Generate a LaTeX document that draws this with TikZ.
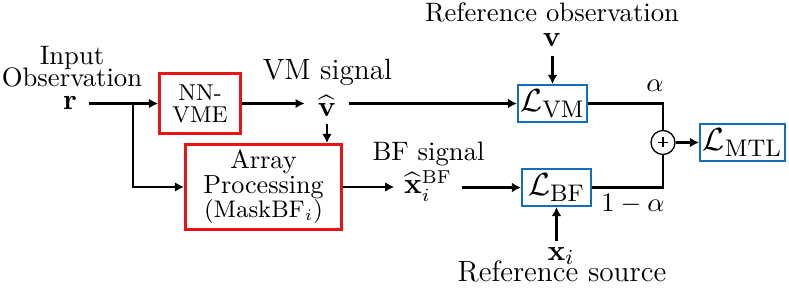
\documentclass[tikz,border=0pt]{standalone}
\usepackage{amsmath}
\usetikzlibrary{arrows.meta,calc}
\definecolor{boxred}{RGB}{235,20,20}
\definecolor{boxblue}{RGB}{20,110,190}
\begin{document}
\begin{tikzpicture}[x=0.375pt,y=-0.375pt,
  redbox/.style={draw=boxred,line width=1.1pt,align=center,inner sep=0pt},
  bluebox/.style={draw=boxblue,line width=0.8pt,inner sep=0pt,minimum height=13.8pt,font=\fontsize{12.5}{13}\selectfont},
  arr/.style={line width=1.1pt,-{Latex[length=3.4pt,width=3.6pt]}},
  conn/.style={line width=1.1pt},
  txt/.style={inner sep=0pt,anchor=base,font=\fontsize{10}{12}\selectfont},
  bigtxt/.style={inner sep=0pt,anchor=base,font=\fontsize{11}{13}\selectfont},
  sumnode/.style={draw,circle,line width=0.5pt,minimum size=9pt,inner sep=0pt,
    path picture={\draw[line width=0.5pt] ($(path picture bounding box.center)+(-5,0)$) -- ++(10,0);
                  \draw[line width=0.5pt] ($(path picture bounding box.center)+(0,-5)$) -- ++(0,10);}}]
\useasboundingbox (0,0) rectangle (789,292);

% input
\node[txt] (intxt1) at (72,65) {Input};
\node[txt] (intxt2) at (72,87) {Observation};
\node[bigtxt,inner xsep=4.5pt,inner ysep=0pt] (r) at (70,110) {$\mathbf{r}$};

% boxes
\node[redbox,minimum width=30.4pt,minimum height=22.5pt,font=\fontsize{8.6}{8.25}\selectfont] (nn) at (200,103.5) {NN-\\VME};
\node[redbox,minimum width=58.5pt,minimum height=31.9pt,font=\fontsize{9.8}{9.2}\selectfont] (arr) at (263.5,187) {Array\\Processing\\{\fontsize{8.8}{9.2}\selectfont$(\mathrm{MaskBF}_i)$}};

% VM signal
\node[bigtxt] (vmtxt) at (327.5,80) {VM signal};
\node[bigtxt,inner xsep=4.8pt,inner ysep=2.25pt] (vh) at (327,117) {$\widehat{\mathbf{v}}$};

% BF signal
\node[txt] (bftxt) at (428.5,160) {BF signal};
\node[txt,font=\fontsize{10.5}{12}\selectfont,inner xsep=3.5pt] (xbf) at (428,194) {$\widehat{\mathbf{x}}_i^{\mathrm{BF}}$};

% losses
\node[bluebox,minimum width=25.8pt] (lvm) at (552.5,103.5) {$\mathcal{L}_{\mathrm{VM}}$};
\node[bluebox,minimum width=25.8pt] (lbf) at (556.5,187.5) {$\mathcal{L}_{\mathrm{BF}}$};
\node[bluebox,minimum width=31.8pt] (mtl) at (742.5,142.5) {$\mathcal{L}_{\mathrm{MTL}}$};
\node[sumnode] (sum) at (663,142.5) {};

% references
\node[txt] (reftop) at (552,22) {Reference observation};
\node[bigtxt,inner ysep=3pt] (v) at (552,47) {$\mathbf{v}$};
\node[bigtxt,inner ysep=2pt] (xi) at (561,260) {$\mathbf{x}_i$};
\node[bigtxt] (refbot) at (562,282) {Reference source};

% weights
\node[txt] (alpha) at (655,92) {$\alpha$};
\node[txt] (oneminus) at (633,212) {$1-\alpha$};

% connectors
\coordinate (br) at (133,103.5);
\draw[arr] (r.east |- nn.west) -- (nn.west);
\draw[arr] (br) |- (arr.west);
\draw[arr] (nn.east) -- (nn.east -| vh.west);
\draw[arr] (vh.east |- lvm.west) -- (lvm.west);
\draw[arr] (vh.south) -- (vh.south |- arr.north);
\draw[arr] (arr.east) -- (arr.east -| xbf.west);
\draw[arr] (xbf.east |- lbf.west) -- (lbf.west);
\draw[arr] (v.south -| lvm.north) -- (lvm.north);
\draw[arr] (lbf.south |- xi.north) -- (lbf.south);
\draw[conn] (lvm.east) -| (sum.north);
\draw[conn] (lbf.east) -| (sum.south);
\draw[arr] (sum.east) -- (mtl.west);
\end{tikzpicture}
\end{document}
